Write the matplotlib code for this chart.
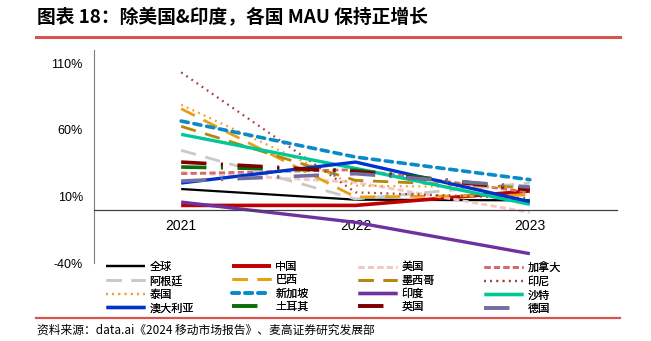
import matplotlib
matplotlib.use("Agg")
import matplotlib.pyplot as plt
from matplotlib.lines import Line2D

plt.rcParams['font.family'] = ['Liberation Sans', 'Noto Sans CJK SC', 'DejaVu Sans']

# Data (MAU growth, %)
years = ["2021", "2022", "2023"]
names = ["全球", "中国", "美国", "加拿大",
         "阿根廷", "巴西", "墨西哥", "印尼",
         "泰国", "新加坡", "印度", "沙特",
         "澳大利亚", "土耳其", "英国", "德国"]
global_ = [15.5, 7.5, 7.0]
china = [3.2, 3.2, 14.0]
usa = [28.0, 20.5, -2.0]
canada = [27.0, 30.0, 13.0]
argentina = [44.5, 8.0, 20.0]
brazil = [75.7, 9.5, 11.0]
mexico = [62.5, 22.0, 16.5]
indonesia = [103.0, 13.0, 8.5]
thailand = [78.7, 18.0, 16.5]
singapore = [66.5, 39.5, 22.5]
india = [5.7, -9.5, -33.0]
saudi = [56.5, 31.0, 4.0]
australia = [20.0, 35.7, 6.0]
turkey = [32.0, 29.5, 15.5]
uk = [35.7, 28.5, 15.0]
germany = [21.5, 27.0, 17.0]
series = [global_, china, usa, canada, argentina, brazil, mexico, indonesia,
          thailand, singapore, india, saudi, australia, turkey, uk, germany]

# style per series: color, linewidth, dashes (None = solid), capstyle
SOLID = None
LONG = (5.5, 3.5)
DASHDOT = (7, 4, 0.6, 4)
styles = [
    ("#000000", 1.6, SOLID, "butt"),
    ("#C00000", 2.6, SOLID, "butt"),
    ("#F4C7C3", 2.0, (2.2, 1.2), "butt"),
    ("#D46A6A", 2.0, (2.2, 1.2), "butt"),
    ("#C9C9C9", 2.0, LONG, "butt"),
    ("#E8A010", 2.0, LONG, "butt"),
    ("#B8860B", 2.0, LONG, "butt"),
    ("#A0403F", 1.6, (0.8, 2.0), "butt"),
    ("#F0A020", 1.6, (0.8, 2.0), "butt"),
    ("#0A8BC8", 2.6, (2.0, 1.6), "round"),
    ("#7030A0", 2.4, SOLID, "butt"),
    ("#00C896", 2.4, SOLID, "butt"),
    ("#0033CC", 2.4, SOLID, "butt"),
    ("#0A6E0A", 2.6, DASHDOT, "butt"),
    ("#7F0000", 2.6, DASHDOT, "butt"),
    ("#7070A0", 2.6, DASHDOT, "butt"),
]

fig = plt.figure(figsize=(6.51, 3.41), dpi=100)
ax = fig.add_axes([94/651, 1-263/341, 523/651, 213.3/341])

x = list(range(len(years)))
handles = []
for name, vals, (c, lw, dash, cap) in zip(names, series, styles):
    ln, = ax.plot(x, vals, color=c, lw=lw, label=name,
                  solid_capstyle='butt', dash_capstyle=cap)
    if dash is not None:
        ln.set_dashes(dash)
    handles.append(ln)

ax.set_xlim(-0.5, 2.5)
ax.set_ylim(-40, 120)
ax.set_yticks([-40, 10, 60, 110])
ax.set_yticklabels(["-40%", "10%", "60%", "110%"], fontsize=9)
ax.set_xticks(x)
ax.set_xticklabels(years, fontsize=9)
ax.tick_params(axis='both', length=0)
ax.tick_params(axis='x', pad=7)
ax.tick_params(axis='y', pad=8)
ax.spines['top'].set_visible(False)
ax.spines['right'].set_visible(False)
ax.spines['left'].set_color('#7F7F7F')
ax.spines['bottom'].set_position(('data', 0))
ax.spines['bottom'].set_color('#404040')
ax.spines['bottom'].set_linewidth(0.9)

# legend: 4 columns placed at fixed x, rows read left to right
for c in range(4):
    idx = [r*4 + c for r in range(4)]
    leg = fig.legend([handles[i] for i in idx], [names[i] for i in idx],
                     loc='upper left', bbox_to_anchor=((106 + 126*c)/651, 1-262/341),
                     frameon=False, handlelength=3.5,
                     prop={'family': 'Noto Sans CJK SC', 'size': 8},
                     handletextpad=0.4, labelspacing=0.28,
                     borderpad=0, borderaxespad=0)
    fig.add_artist(leg)

# title and source
fig.text(37/651, 1-18/341, "图表 18：除美国&印度，各国 MAU 保持正增长",
         fontsize=13.5, fontweight='bold', va='center', ha='left',
         family=['Noto Sans CJK SC', 'DejaVu Sans'])
fig.add_artist(Line2D([36/651, 620/651], [1-37/341, 1-37/341],
                      color='#D9534F', lw=2.2, transform=fig.transFigure))
fig.add_artist(Line2D([36/651, 620/651], [1-318/341, 1-318/341],
                      color='#D9534F', lw=1.6, transform=fig.transFigure))
fig.text(37/651, 1-330/341, "资料来源：data.ai《2024 移动市场报告》、麦高证券研究发展部",
         fontsize=8.5, va='center', ha='left',
         family=['Noto Sans CJK SC', 'DejaVu Sans'])

fig.savefig("out.png", dpi=100, facecolor='white')
